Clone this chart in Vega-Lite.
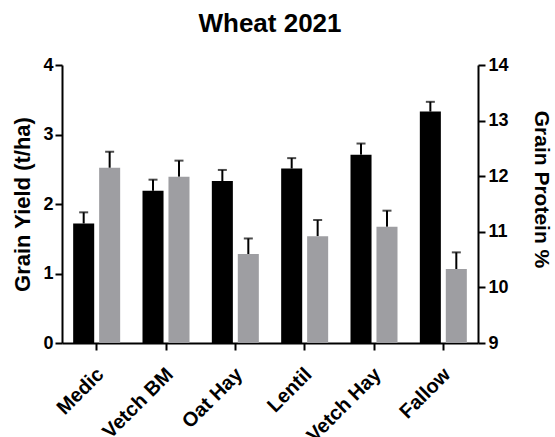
{
  "$schema": "https://vega.github.io/schema/vega-lite/v6.json",
  "width": 416,
  "height": 278,
  "autosize": {"type": "none"},
  "padding": {"left": 62, "top": 65, "right": 77, "bottom": 94},
  "background": "white",
  "title": {
    "text": "Wheat 2021",
    "font": "Liberation Sans",
    "fontSize": 26,
    "fontWeight": "bold",
    "color": "black",
    "anchor": "middle",
    "frame": "group",
    "offset": 19
  },
  "config": {
    "view": {"stroke": null},
    "axis": {
      "grid": false,
      "domainColor": "black",
      "domainWidth": 2,
      "tickColor": "black",
      "tickWidth": 2,
      "tickSize": 7,
      "labelFont": "Liberation Sans",
      "labelFontSize": 18,
      "labelFontWeight": "bold",
      "labelColor": "black",
      "titleFont": "Liberation Sans",
      "titleFontSize": 22,
      "titleFontWeight": "bold",
      "titleColor": "black"
    }
  },
  "data": {
    "values": [
      {"crop": "Medic", "measure": "Yield", "value": 1.72, "upper": 1.88},
      {"crop": "Vetch BM", "measure": "Yield", "value": 2.19, "upper": 2.35},
      {"crop": "Oat Hay", "measure": "Yield", "value": 2.33, "upper": 2.49},
      {"crop": "Lentil", "measure": "Yield", "value": 2.51, "upper": 2.66},
      {"crop": "Vetch Hay", "measure": "Yield", "value": 2.71, "upper": 2.87},
      {"crop": "Fallow", "measure": "Yield", "value": 3.33, "upper": 3.47},
      {"crop": "Medic", "measure": "Protein", "value": 12.15, "upper": 12.44},
      {"crop": "Vetch BM", "measure": "Protein", "value": 11.99, "upper": 12.28},
      {"crop": "Oat Hay", "measure": "Protein", "value": 10.6, "upper": 10.88},
      {"crop": "Lentil", "measure": "Protein", "value": 10.92, "upper": 11.21},
      {"crop": "Vetch Hay", "measure": "Protein", "value": 11.09, "upper": 11.38},
      {"crop": "Fallow", "measure": "Protein", "value": 10.33, "upper": 10.63}
    ]
  },
  "encoding": {
    "x": {
      "field": "crop",
      "type": "nominal",
      "sort": ["Medic", "Vetch BM", "Oat Hay", "Lentil", "Vetch Hay", "Fallow"],
      "scale": {"paddingInner": 0, "paddingOuter": 0},
      "axis": {"title": null, "labelAngle": -45, "labelAlign": "right", "labelBaseline": "middle", "labelPadding": 21, "labelOffset": 4, "labelFontSize": 20}
    },
    "xOffset": {
      "field": "measure",
      "type": "nominal",
      "scale": {"domain": ["Yield", "Protein"], "paddingInner": 0.19, "paddingOuter": 0.43}
    }
  },
  "layer": [
    {
      "transform": [{"filter": "datum.measure === 'Yield'"}],
      "layer": [
        {
          "mark": {"type": "rule", "color": "black", "strokeWidth": 2},
          "encoding": {
            "y": {"field": "value", "type": "quantitative"},
            "y2": {"field": "upper"}
          }
        },
        {
          "mark": {"type": "tick", "color": "black", "thickness": 2, "size": 9, "orient": "horizontal"},
          "encoding": {
            "y": {"field": "upper", "type": "quantitative"}
          }
        },
        {
          "mark": {"type": "bar", "color": "black"},
          "encoding": {
            "y": {
              "field": "value",
              "type": "quantitative",
              "scale": {"domain": [0, 4], "nice": false},
              "axis": {"title": "Grain Yield (t/ha)", "values": [0, 1, 2, 3, 4], "format": "d", "orient": "left", "labelPadding": 2, "titlePadding": 8}
            }
          }
        }
      ]
    },
    {
      "transform": [{"filter": "datum.measure === 'Protein'"}],
      "layer": [
        {
          "mark": {"type": "rule", "color": "black", "strokeWidth": 2},
          "encoding": {
            "y": {"field": "value", "type": "quantitative"},
            "y2": {"field": "upper"}
          }
        },
        {
          "mark": {"type": "tick", "color": "black", "thickness": 2, "size": 9, "orient": "horizontal"},
          "encoding": {
            "y": {"field": "upper", "type": "quantitative"}
          }
        },
        {
          "mark": {"type": "bar", "color": "#9e9ea2"},
          "encoding": {
            "y": {
              "field": "value",
              "type": "quantitative",
              "scale": {"domain": [9, 14], "nice": false, "zero": false},
              "axis": {"title": "Grain Protein %", "values": [9, 10, 11, 12, 13, 14], "format": "d", "orient": "right", "labelPadding": 3, "titlePadding": 22, "titleFontSize": 21, "titleY": 124}
            },
            "y2": {"datum": 9}
          }
        }
      ]
    }
  ],
  "resolve": {"scale": {"y": "independent"}}
}
